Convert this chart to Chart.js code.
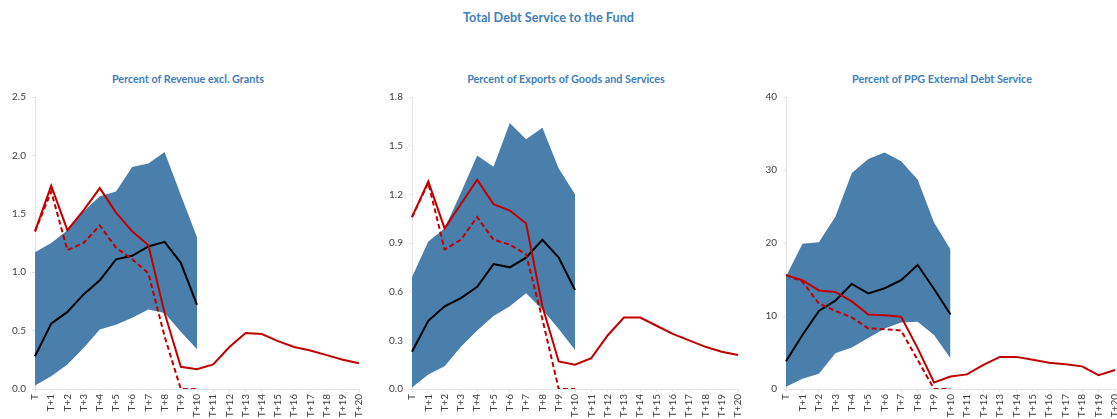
<!DOCTYPE html>
<html>
<head>
<meta charset="utf-8">
<script src="https://cdn.jsdelivr.net/npm/chart.js@4.4.1/dist/chart.umd.min.js"></script>
<style>
  body { margin: 0; width: 1117px; height: 419px; overflow: hidden; background: #fff; position: relative; font-family: Lato, sans-serif; }
  #mainTitle { position: absolute; left: 0; top: 9px; width: 1097px; text-align: center; font: bold 12.7px Lato, sans-serif; color: #4180b8; }
  .sub { position: absolute; top: 72px; width: 300px; text-align: center; font: bold 10.8px Lato, sans-serif; color: #4180b8; }
  canvas { position: absolute; top: 60px; }
</style>
</head>
<body>
<div id="mainTitle">Total Debt Service to the Fund</div>
<div class="sub" style="left:38px">Percent of Revenue excl. Grants</div>
<div class="sub" style="left:416px">Percent of Exports of Goods and Services</div>
<div class="sub" style="left:792px">Percent of PPG External Debt Service</div>
<canvas id="c1" width="375" height="359" style="left:0px"></canvas>
<canvas id="c2" width="375" height="359" style="left:377px"></canvas>
<canvas id="c3" width="380" height="359" style="left:751px"></canvas>
<script>
var labels = ['T', 'T+1', 'T+2', 'T+3', 'T+4', 'T+5', 'T+6', 'T+7', 'T+8', 'T+9', 'T+10',
    'T+11', 'T+12', 'T+13', 'T+14', 'T+15', 'T+16', 'T+17', 'T+18', 'T+19', 'T+20'];

// Percent of Revenue excl. Grants
var revenueHigh = [1.17, 1.25, 1.36, 1.52, 1.65, 1.69, 1.90, 1.93, 2.03, 1.66, 1.30];
var revenueLow = [0.03, 0.11, 0.21, 0.35, 0.51, 0.55, 0.61, 0.68, 0.65, 0.49, 0.34];
var revenueMedian = [0.28, 0.56, 0.66, 0.81, 0.93, 1.11, 1.14, 1.22, 1.26, 1.08, 0.72];
var revenueProgram = [1.35, 1.74, 1.36, 1.53, 1.72, 1.51, 1.35, 1.23, 0.65, 0.19, 0.17,
    0.21, 0.36, 0.48, 0.47, 0.41, 0.36, 0.33, 0.29, 0.25, 0.22];
var revenueExisting = [1.35, 1.69, 1.19, 1.25, 1.40, 1.21, 1.11, 0.99, 0.45, 0, 0];

// Percent of Exports of Goods and Services
var exportsHigh = [0.69, 0.91, 0.99, 1.21, 1.44, 1.37, 1.64, 1.54, 1.61, 1.36, 1.20];
var exportsLow = [0.01, 0.09, 0.14, 0.26, 0.36, 0.45, 0.51, 0.59, 0.49, 0.37, 0.24];
var exportsMedian = [0.23, 0.42, 0.51, 0.56, 0.63, 0.77, 0.75, 0.81, 0.92, 0.81, 0.61];
var exportsProgram = [1.06, 1.28, 0.99, 1.14, 1.29, 1.14, 1.10, 1.02, 0.51, 0.17, 0.15,
    0.19, 0.33, 0.44, 0.44, 0.39, 0.34, 0.30, 0.26, 0.23, 0.21];
var exportsExisting = [1.06, 1.27, 0.86, 0.92, 1.06, 0.92, 0.89, 0.83, 0.43, 0, 0];

// Percent of PPG External Debt Service
var ppgHigh = [15.4, 19.9, 20.1, 23.6, 29.6, 31.5, 32.4, 31.2, 28.7, 22.8, 19.1];
var ppgLow = [0.3, 1.4, 2.1, 4.9, 5.7, 7.0, 8.3, 9.1, 9.2, 7.4, 4.2];
var ppgMedian = [3.8, 7.4, 10.7, 12.1, 14.4, 13.1, 13.8, 14.9, 17.0, 13.7, 10.2];
var ppgProgram = [15.6, 14.9, 13.5, 13.3, 12.0, 10.2, 10.1, 9.9, 5.6, 0.9, 1.7,
    2.0, 3.3, 4.4, 4.4, 4.0, 3.6, 3.4, 3.1, 1.9, 2.6];
var ppgExisting = [15.6, 14.7, 11.7, 10.7, 9.8, 8.3, 8.2, 8.0, 4.0, 0, 0];

var bandColor = '#4a7fac';
var redColor = '#c00000';
var axisColor = '#e3e3e3';
var textColor = '#404040';

function makeChart(id, high, low, median, program, existing, yMax, yStep, decimals, padRight) {
    var ctx = document.getElementById(id);
    return new Chart(ctx, {
        type: 'line',
        data: {
            labels: labels,
            datasets: [
                {
                    data: program,
                    borderColor: redColor,
                    borderWidth: 2,
                    pointRadius: 0,
                    fill: false
                },
                {
                    data: existing,
                    borderColor: redColor,
                    borderWidth: 2,
                    borderDash: [5, 3],
                    pointRadius: 0,
                    fill: false
                },
                {
                    data: median,
                    borderColor: '#000000',
                    borderWidth: 2,
                    pointRadius: 0,
                    fill: false
                },
                {
                    data: low,
                    borderWidth: 0,
                    borderColor: 'transparent',
                    pointRadius: 0,
                    fill: false
                },
                {
                    data: high,
                    borderWidth: 0,
                    borderColor: 'transparent',
                    backgroundColor: bandColor,
                    pointRadius: 0,
                    fill: { target: 3 }
                }
            ]
        },
        options: {
            responsive: false,
            animation: false,
            layout: {
                padding: { left: 0, right: padRight, top: 37, bottom: 0 }
            },
            plugins: {
                legend: { display: false },
                tooltip: { enabled: false },
                title: { display: false }
            },
            scales: {
                x: {
                    grid: { drawOnChartArea: false, color: axisColor, tickLength: 3 },
                    border: { color: axisColor },
                    ticks: {
                        color: textColor,
                        font: { family: 'Lato', size: 10 },
                        minRotation: 90,
                        maxRotation: 90,
                        autoSkip: false,
                        padding: 2
                    },
                    afterFit: function (scale) { scale.height = 30; }
                },
                y: {
                    min: 0,
                    max: yMax,
                    grid: { drawOnChartArea: false, color: axisColor, tickLength: 3 },
                    border: { color: axisColor },
                    ticks: {
                        stepSize: yStep,
                        color: textColor,
                        font: { family: 'Lato', size: 10 },
                        padding: 6,
                        callback: function (value) {
                            return value.toFixed(decimals);
                        }
                    },
                    afterFit: function (scale) { scale.width = 35; }
                }
            }
        }
    });
}

makeChart('c1', revenueHigh, revenueLow, revenueMedian, revenueProgram, revenueExisting, 2.5, 0.5, 1, 16);
makeChart('c2', exportsHigh, exportsLow, exportsMedian, exportsProgram, exportsExisting, 1.8, 0.3, 1, 14);
makeChart('c3', ppgHigh, ppgLow, ppgMedian, ppgProgram, ppgExisting, 40, 10, 0, 16);
</script>
</body>
</html>
